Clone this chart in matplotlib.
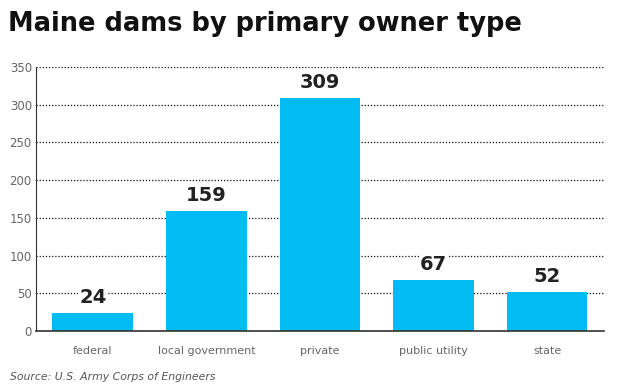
import matplotlib
matplotlib.use("Agg")
import matplotlib.pyplot as plt

categories = ["federal", "local government", "private", "public utility", "state"]
counts = [24, 159, 309, 67, 52]
yticks = [0, 50, 100, 150, 200, 250, 300, 350]

fig = plt.figure(figsize=(6.24, 3.9), dpi=100)
ax = fig.add_axes([0.0577, 0.1513, 0.910, 0.677])

x = range(len(categories))
ax.bar(x, counts, width=0.71, color="#00bcf2", zorder=1)
for i, v in zip(x, counts):
    ax.text(i, v + 8, str(v), ha="center", va="bottom", fontsize=14,
            fontweight="bold", color="#222222", zorder=3,
            bbox=dict(facecolor="white", edgecolor="none", pad=1))

ax.set_xlim(-0.5, 4.5)
ax.set_ylim(0, 350)
ax.set_yticks(yticks)
ax.set_xticks(list(x))
ax.set_xticklabels(categories)
ax.yaxis.grid(True, linestyle=(0, (1, 1.5)), color="#111111", linewidth=0.9, zorder=0)
ax.set_axisbelow(True)
for s in ["top", "right"]:
    ax.spines[s].set_visible(False)
ax.spines["left"].set_color("#333333")
ax.spines["bottom"].set_color("#333333")
ax.spines["bottom"].set_linewidth(1.2)
ax.tick_params(axis="both", length=0, labelsize=8.5, labelcolor="#666666")
ax.tick_params(axis="x", pad=11, labelsize=8)
ax.tick_params(axis="y", pad=3)

fig.text(0.013, 0.92, "Maine dams by primary owner type", fontsize=18.5,
         fontweight="heavy", color="#111111", ha="left", va="baseline")
fig.text(0.016, 0.025, "Source: U.S. Army Corps of Engineers", fontsize=7.8,
         style="italic", color="#555555", ha="left", va="baseline")

fig.savefig("out.png", dpi=100)
